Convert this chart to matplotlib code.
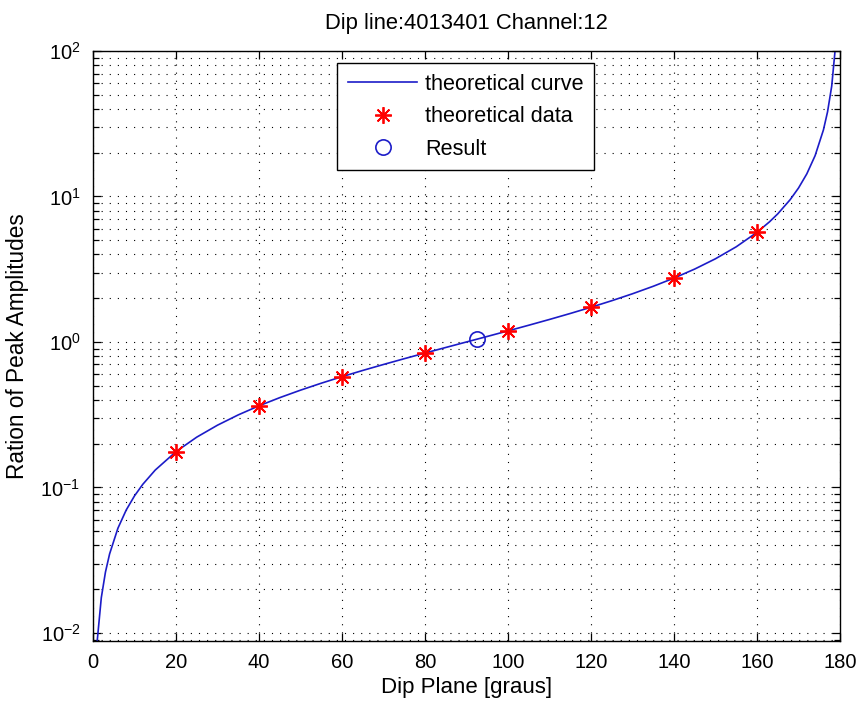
import matplotlib
matplotlib.use("Agg")
import matplotlib.pyplot as plt
from matplotlib.ticker import LogLocator, FixedLocator, NullFormatter

plt.rcParams['font.family'] = ['Liberation Sans', 'DejaVu Sans']

# Theoretical amplitude-ratio curve versus dip angle
curve_dip = [1, 2, 3, 4, 6, 8, 10, 12, 15, 20, 25, 30, 35, 40, 45, 50, 55, 60,
             65, 70, 75, 80, 85, 90, 95, 100, 105, 110, 115, 120, 125, 130, 135,
             140, 145, 150, 155, 160, 163, 165, 168, 170, 172, 174, 176, 177,
             178, 179]
curve_ratio = [0.00873, 0.01746, 0.02619, 0.03492, 0.05241, 0.06993, 0.08749,
               0.1051, 0.1317, 0.1763, 0.2217, 0.2679, 0.3153, 0.3640, 0.4142,
               0.4663, 0.5206, 0.5774, 0.6371, 0.7002, 0.7673, 0.8391, 0.9163,
               1.0, 1.0913, 1.1918, 1.3032, 1.4281, 1.5697, 1.7321, 1.9210,
               2.1445, 2.4142, 2.7475, 3.1716, 3.7321, 4.5107, 5.6713, 6.6912,
               7.5958, 9.5144, 11.430, 14.301, 19.081, 28.636, 38.188, 57.290,
               114.59]

# Theoretical sample points
data_dip = [20, 40, 60, 80, 100, 120, 140, 160]
data_ratio = [0.1763, 0.3640, 0.5774, 0.8391, 1.1918, 1.7321, 2.7475, 5.6713]

# Measured result
result_dip = [92.5]
result_ratio = [1.045]

x_ticks = [0, 20, 40, 60, 80, 100, 120, 140, 160, 180]

fig = plt.figure(figsize=(8.6, 7.02), dpi=100)
ax = fig.add_axes([93 / 860, 1 - 641 / 702, (840 - 93) / 860, (641 - 51) / 702])

ax.set_yscale('log')
curve_color = '#1c1cc8'
ax.plot(curve_dip, curve_ratio, color=curve_color, lw=1.2, label='theoretical curve')
ax.plot(data_dip, data_ratio, linestyle='none', marker=(8, 2, 0), color='#ff0000',
        markersize=12, markeredgewidth=1.3, label='theoretical data', zorder=3)
ax.plot(result_dip, result_ratio, linestyle='none', marker='o',
        markerfacecolor='none', markeredgecolor=curve_color, markersize=11,
        markeredgewidth=1.2, label='Result', zorder=3)

ax.set_xlim(0, 180)
ax.set_ylim(0.0088, 100)
ax.xaxis.set_major_locator(FixedLocator(x_ticks))
ax.set_xticklabels([str(v) for v in x_ticks])
ax.yaxis.set_major_locator(LogLocator(base=10, numticks=10))
ax.yaxis.set_minor_locator(LogLocator(base=10, subs=range(2, 10), numticks=20))
ax.yaxis.set_minor_formatter(NullFormatter())

grid_style = dict(linestyle=(0, (1, 6.3)), color='black', lw=0.8)
ax.grid(True, which='major', axis='both', **grid_style)
ax.grid(True, which='minor', axis='y', **grid_style)

ax.tick_params(which='both', direction='in', top=True, right=True,
               labelsize=14.5, colors='black', width=0.9)
ax.tick_params(which='major', length=6, pad=9)
ax.tick_params(which='minor', length=4)
for s in ax.spines.values():
    s.set_linewidth(1.0)

ax.set_title('Dip line:4013401 Channel:12', fontsize=15.8, pad=16)
ax.set_xlabel('Dip Plane [graus]', fontsize=16, labelpad=3.5)
ax.set_ylabel('Ration of Peak Amplitudes', fontsize=16.3, labelpad=8)

leg = ax.legend(loc='upper left', bbox_to_anchor=(0.327, 0.98), fontsize=15.6,
                fancybox=False, framealpha=1, edgecolor='black',
                handlelength=3.2, handletextpad=0.35, borderpad=0.5,
                labelspacing=0.53, borderaxespad=0)
leg.get_frame().set_linewidth(1.0)

fig.savefig('out.png', dpi=100)
